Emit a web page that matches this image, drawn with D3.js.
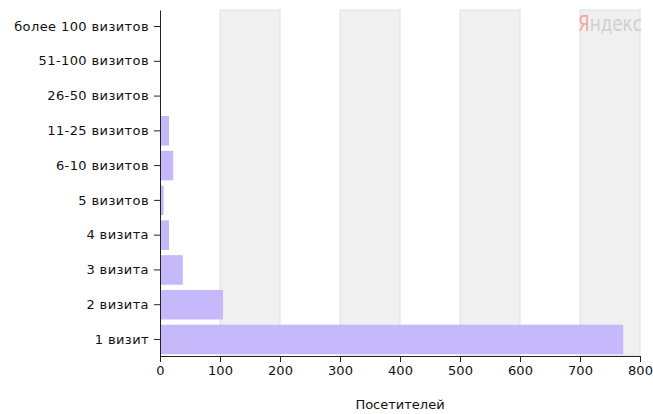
<!DOCTYPE html>
<html>
<head>
<meta charset="utf-8">
<script src="https://cdn.jsdelivr.net/npm/d3@7"></script>
<style>
html,body{margin:0;padding:0;background:#fff;}
svg{display:block;}
text{font-family:"DejaVu Sans",Verdana,sans-serif;}
</style>
</head>
<body>
<svg id="chart" width="653" height="414"></svg>
<script>
const categories = ["более 100 визитов","51-100 визитов","26-50 визитов","11-25 визитов","6-10 визитов","5 визитов","4 визита","3 визита","2 визита","1 визит"];
const visitors = [0, 0, 0, 15, 22, 6, 15, 38, 105, 772];
const xTicks = [0,100,200,300,400,500,600,700,800];
const xTitle = "Посетителей";

const svg = d3.select("#chart");
const margin = {left:160, right:13, top:10, bottom:58};
const W = 653, H = 414;
const x = d3.scaleLinear().domain([0,800]).range([margin.left, W - margin.right]);
const y = d3.scaleBand().domain(categories).range([margin.top, H - margin.bottom]).paddingInner(0.15).paddingOuter(0.05);

// alternating bands
const bands = d3.pairs(xTicks).filter((d,i)=> i%2===1);
svg.append("g").selectAll("rect").data(bands).join("rect")
  .attr("x", d=>x(d[0])).attr("y", margin.top)
  .attr("width", d=>x(d[1])-x(d[0])).attr("height", H - margin.bottom - margin.top)
  .attr("fill","#f0f0f0").attr("stroke","#e0e0e0").attr("stroke-width",1);

// bars
svg.append("g").selectAll("rect").data(categories).join("rect")
  .attr("x", x(0)).attr("y", d=>y(d))
  .attr("width", (d,i)=> x(visitors[i]) - x(0))
  .attr("height", y.bandwidth())
  .attr("fill","#c5b8fb");

// axes
const yAxis = svg.append("g").attr("transform",`translate(${x(0)},0)`)
  .call(d3.axisLeft(y).tickSize(6).tickPadding(5).tickSizeOuter(0));
yAxis.select(".domain").attr("stroke","#222");
yAxis.selectAll(".tick line").attr("stroke","#222");
yAxis.selectAll("text").attr("font-size",13).attr("letter-spacing","0.4").attr("fill","#111");

const xAxis = svg.append("g").attr("transform",`translate(0,${H - margin.bottom})`)
  .call(d3.axisBottom(x).tickValues(xTicks).tickSize(6).tickPadding(4).tickSizeOuter(0));
xAxis.select(".domain").attr("stroke","#222");
xAxis.selectAll(".tick line").attr("stroke","#222");
xAxis.selectAll("text").attr("font-size",13).attr("fill","#111");

svg.append("text").attr("x", x(400)).attr("y", 409).attr("text-anchor","middle")
  .attr("font-size",13).attr("fill","#111").text(xTitle);

// watermark
const wm = svg.append("g").attr("transform","translate(578,31) scale(0.8,1)")
  .append("text").attr("x", 0).attr("y", 0).attr("font-size",21);
wm.append("tspan").attr("fill","#f2a5a5").text("Я");
wm.append("tspan").attr("fill","#cfcfcf").text("ндекс");
</script>
</body>
</html>
